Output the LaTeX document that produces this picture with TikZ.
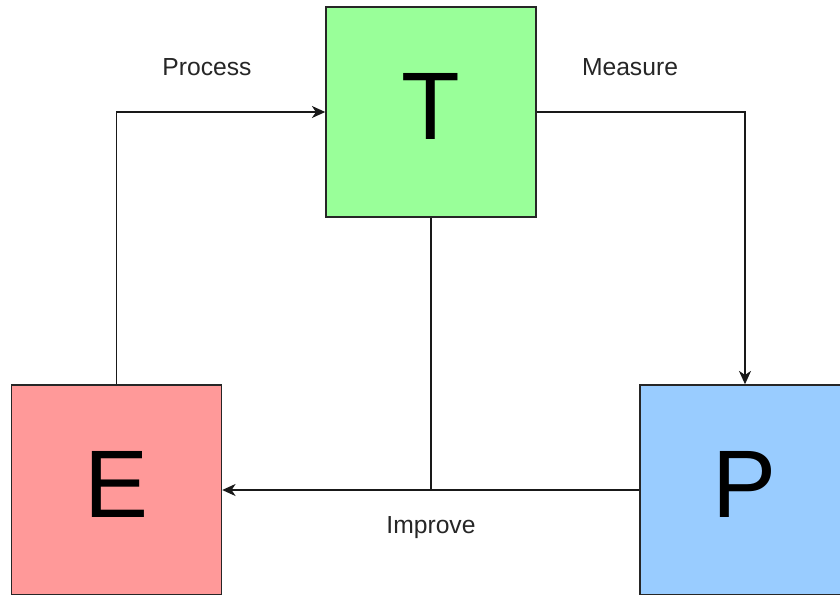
\documentclass[tikz,border=0pt]{standalone}
\usepackage{fontspec}
\setmainfont{Liberation Sans}
\usetikzlibrary{arrows.meta}
\definecolor{tgreen}{HTML}{99FF99}
\definecolor{ered}{HTML}{FF9999}
\definecolor{pblue}{HTML}{99CCFF}
\begin{document}
\begin{tikzpicture}[x=0.75pt,y=-0.75pt,
  bigbox/.style={draw=black!85,line width=1.1pt,minimum width=157.5pt,minimum height=157.5pt,inner sep=0pt,font=\fontsize{72}{72}\selectfont},
  biglbl/.style={font=\fontsize{72}{72}\selectfont,inner sep=0pt},
  conn/.style={line width=1.1pt,draw=black!90},
  arr/.style={conn,-{Stealth[length=10pt,width=9pt,inset=3pt]}},
  lbl/.style={font=\fontsize{18.5}{22}\selectfont,text=black!85}]
\useasboundingbox[fill=white] (0,0) rectangle (840,594);
\node[bigbox,fill=tgreen] (T) at (431,112) {};
\node[bigbox,fill=ered] (E) at (116.5,490) {};
\node[bigbox,fill=pblue] (P) at (745,490) {};
\node[biglbl] (tT) at ([yshift=4.5pt]T.center) {T};
\node[biglbl] (tE) at ([yshift=4.5pt]E.center) {E};
\node[biglbl] (tP) at ([yshift=4.5pt]P.center) {P};
\coordinate (J) at (T.south |- P.west);
\draw[arr] (E.north) |- (T.west);
\draw[arr] (T.east) -| (P.north);
\draw[arr] (P.west) -- (E.east);
\draw[conn] (T.south) -- (J);
\node[lbl] (lp) at (207,67) {Process};
\node[lbl] (lm) at (630,67) {Measure};
\node[lbl] (li) at (431,528) {Improve};
\end{tikzpicture}
\end{document}
